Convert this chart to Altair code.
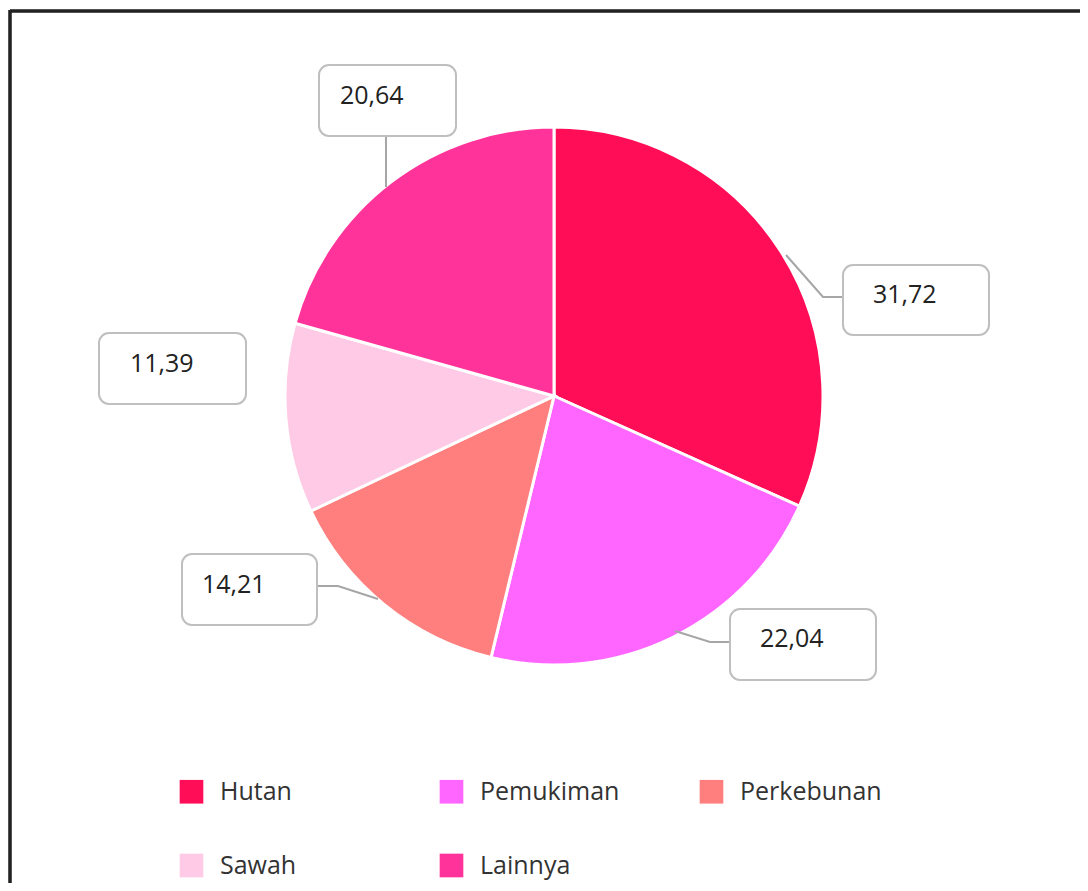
import altair as alt
import pandas as pd

# ---- data ----
categories = ["Hutan", "Pemukiman", "Perkebunan", "Sawah", "Lainnya"]
values = [31.72, 22.04, 14.21, 11.39, 20.64]
value_labels = ["31,72", "22,04", "14,21", "11,39", "20,64"]
colors = ["#FF0D57", "#FF66FF", "#FF7F7F", "#FFCAE6", "#FF3399"]

# ---- layout (chart pixel coordinates) ----
W, H = 1072, 875
CX, CY, R = 546, 388, 269
# label boxes: left, right, top, bottom ; text anchor x, y
box_left = [835, 722, 174, 91, 311]
box_right = [981, 868, 309, 238, 448]
box_top = [257, 601, 546, 325, 57]
box_bottom = [327, 672, 617, 396, 128]
text_x = [865, 752, 194, 122, 332]
text_y = [287, 631, 577, 356, 88]
# leader polylines per category (slice -> elbow -> box)
leaders = {
    "Hutan": [(778, 247), (815, 289), (835, 289)],
    "Pemukiman": [(667, 623), (702, 634), (722, 634)],
    "Perkebunan": [(370, 591), (330, 578), (309, 578)],
    "Lainnya": [(378, 179), (378, 128)],
}

pie_df = pd.DataFrame({"category": categories, "value": values,
                       "order": list(range(len(categories)))})
lab_df = pd.DataFrame({"category": categories, "label": value_labels,
                       "bx": box_left, "bx2": box_right, "by": box_top, "by2": box_bottom,
                       "tx": text_x, "ty": text_y})
lead_rows = []
for cat, pts in leaders.items():
    for i, (px, py) in enumerate(pts):
        lead_rows.append({"category": cat, "i": i, "px": px, "py": py})
lead_df = pd.DataFrame(lead_rows)

xs = alt.Scale(domain=[0, W], range=[0, W], nice=False, zero=False)
ys = alt.Scale(domain=[0, H], range=[0, H], nice=False, zero=False)

pie = alt.Chart(pie_df).mark_arc(outerRadius=R, stroke="white", strokeWidth=3).encode(
    theta=alt.Theta("value:Q", stack=True),
    order=alt.Order("order:Q"),
    color=alt.Color("category:N",
                    scale=alt.Scale(domain=categories, range=colors),
                    sort=categories,
                    legend=alt.Legend(orient="none", legendX=171, legendY=771,
                                      direction="horizontal",
                                      title=None, columns=3, gridAlign="all",
                                      symbolType="square", symbolSize=560,
                                      symbolStrokeWidth=0,
                                      labelFont="Open Sans", labelFontSize=25,
                                      labelColor="#333333", labelOffset=16,
                                      labelLimit=400, columnPadding=77,
                                      rowPadding=48, padding=0)),
    x=alt.value(CX), y=alt.value(CY),
)

leader = alt.Chart(lead_df).mark_line(color="#A6A6A6", strokeWidth=2).encode(
    x=alt.X("px:Q", scale=xs, axis=None),
    y=alt.Y("py:Q", scale=ys, axis=None),
    detail="category:N",
    order="i:Q",
)

boxes = alt.Chart(lab_df).mark_rect(cornerRadius=10, fill="white",
                                     stroke="#BFBFBF", strokeWidth=2).encode(
    x=alt.X("bx:Q", scale=xs, axis=None), x2="bx2:Q",
    y=alt.Y("by:Q", scale=ys, axis=None), y2="by2:Q",
)

texts = alt.Chart(lab_df).mark_text(align="left", baseline="middle",
                                     font="Open Sans", fontSize=25,
                                     color="#222222").encode(
    x=alt.X("tx:Q", scale=xs, axis=None),
    y=alt.Y("ty:Q", scale=ys, axis=None),
    text="label:N",
)

frame_top = alt.Chart(pie_df).mark_rule(color="#222222", strokeWidth=2.5).encode(
    x=alt.value(2), x2=alt.value(W), y=alt.value(3))
frame_left = alt.Chart(pie_df).mark_rule(color="#222222", strokeWidth=2.5).encode(
    x=alt.value(2), y=alt.value(2), y2=alt.value(H))

chart = alt.layer(pie, leader, boxes, texts, frame_top, frame_left).properties(
    width=W, height=H, padding=0,
    autosize=alt.AutoSizeParams(type="none"),
).resolve_scale(color="shared").configure_view(strokeWidth=0)

chart.save("out.html", embed_options={"renderer": "svg", "actions": False})
